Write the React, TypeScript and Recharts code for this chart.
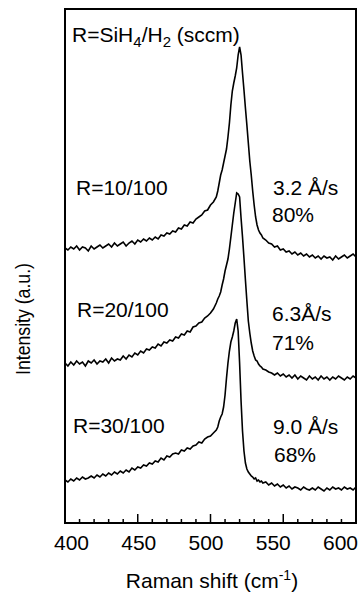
import { Line, LineChart, ReferenceArea, XAxis, YAxis } from 'recharts';

// Raman shift grid (cm-1), finer around the c-Si peak
const WAVENUMBER = [
  400, 402, 404, 406, 408, 410, 412, 414, 416, 418, 420, 422, 424, 426, 428, 430, 432, 434, 436, 438,
  440, 442, 444, 446, 448, 450, 452, 454, 456, 458, 460, 462, 464, 466, 468, 470, 472, 474, 476, 478,
  480, 482, 484, 486, 488, 490, 492, 494, 496, 498, 500, 502, 504,
  505, 506, 507, 508, 509, 510, 511, 512, 513, 514, 515, 516, 517, 518, 519, 520, 521, 522, 523, 524,
  525, 526, 527, 528, 529, 530, 531, 532, 533, 534, 535,
  536, 538, 540, 542, 544, 546, 548, 550, 552, 554, 556, 558, 560, 562, 564, 566, 568, 570, 572, 574,
  576, 578, 580, 582, 584, 586, 588, 590, 592, 594, 596, 598, 600,
];

// intensities (a.u., spectra already offset)
const R10 = [
  275, 273, 276, 274, 277, 273, 276, 275, 272, 277, 274, 276, 278, 275, 277, 279, 276, 280, 277, 279,
  281, 277, 280, 282, 279, 283, 281, 284, 282, 285, 283, 286, 284, 288, 287, 290, 289, 292, 291, 295,
  294, 298, 297, 301, 300, 304, 306, 308, 312, 313, 318, 321, 326,
  332, 340, 348, 353, 360, 367, 374, 386, 400, 418, 432, 440, 447, 455, 468, 476, 468, 450, 433, 415,
  398, 380, 362, 348, 332, 318, 306, 298, 293, 290, 288,
  285, 283, 280, 279, 276, 277, 273, 274, 271, 272, 269, 271, 268, 270, 267, 269, 266, 268, 265, 267,
  264, 267, 265, 266, 263, 267, 264, 266, 268, 265, 267, 269, 266,
];

const R20 = [
  160, 157, 161, 158, 162, 159, 161, 157, 162, 160, 163, 159, 162, 161, 164, 160, 165, 162, 164, 163,
  167, 164, 168, 166, 170, 168, 172, 170, 174, 173, 176, 175, 179, 177, 181, 180, 183, 182, 186, 185,
  189, 188, 192, 191, 196, 197, 200, 201, 205, 207, 210, 214, 220,
  224, 227, 231, 238, 244, 252, 258, 264, 274, 286, 298, 310, 320, 330, 329, 326, 305, 286, 265, 243,
  222, 202, 190, 180, 172, 167, 163, 162, 159, 157, 156,
  154, 153, 151, 150, 148, 150, 147, 149, 146, 148, 145, 148, 144, 147, 145, 143, 147, 144, 146, 143,
  147, 144, 146, 143, 146, 144, 147, 145, 143, 146, 144, 147, 145,
];

const R30 = [
  43, 41, 44, 42, 45, 43, 46, 44, 45, 47, 45, 48, 46, 49, 47, 50, 48, 51, 49, 52,
  50, 53, 51, 55, 53, 56, 55, 58, 57, 60, 59, 62, 61, 65, 63, 67, 66, 69, 70, 69,
  73, 72, 75, 74, 77, 78, 81, 80, 84, 86, 87, 90, 93,
  96, 102, 106, 109, 116, 128, 145, 160, 172, 181, 186, 192, 200, 204, 192, 160, 122, 92, 72, 60,
  54, 51, 49, 47, 46, 44, 45, 42, 43, 41, 42,
  40, 41, 38, 40, 37, 39, 36, 38, 35, 37, 34, 36, 35, 33, 36, 34, 33, 35, 33, 36,
  34, 32, 35, 33, 36, 34, 35, 33, 36, 34, 35, 33, 36,
];

const X_TICKS = [400, 410, 420, 430, 440, 450, 460, 470, 480, 490, 500, 510, 520, 530, 540, 550, 560, 570, 580, 590, 600];

const FONT = 'Arial, "Liberation Sans", Helvetica, sans-serif';

const data = WAVENUMBER.map((w, i) => ({ w, r10: R10[i], r20: R20[i], r30: R30[i] }));

function BottomTick(props: any) {
  const { x, y, payload } = props;
  const v = payload.value as number;
  const major = v % 50 === 0;
  return (
    <g>
      <line x1={x} x2={x} y1={y} y2={y - (major ? 9 : 4)} stroke="#000" strokeWidth={1.5} />
      {major && (
        <text
          x={x + 6.5 - (v - 400) * 0.11}
          y={y + 27}
          textAnchor="middle"
          fontFamily={FONT}
          fontSize={21}
          fill="#000"
        >
          {v}
        </text>
      )}
    </g>
  );
}

const txt = { fontFamily: FONT, fontSize: 21, fill: '#000' } as const;

export default function App() {
  return (
    <div style={{ position: 'absolute', left: 0, top: 0, width: 360, height: 593, background: '#fff' }}>
      <LineChart width={360} height={593} data={data} margin={{ top: 9, right: 4, bottom: 0, left: 65 }}>
        <XAxis
          dataKey="w"
          type="number"
          domain={[400, 600]}
          ticks={X_TICKS}
          interval={0}
          height={70}
          axisLine={false}
          tickLine={false}
          tickSize={0}
          tickMargin={0}
          tick={<BottomTick />}
        />
        <YAxis hide type="number" domain={[0, 514]} />
        <ReferenceArea x1={400} x2={600} y1={0} y2={514} fill="none" stroke="#000" strokeWidth={2} />
        <Line dataKey="r10" type="linear" stroke="#000" strokeWidth={1.6} dot={false} activeDot={false} isAnimationActive={false} />
        <Line dataKey="r20" type="linear" stroke="#000" strokeWidth={1.6} dot={false} activeDot={false} isAnimationActive={false} />
        <Line dataKey="r30" type="linear" stroke="#000" strokeWidth={1.6} dot={false} activeDot={false} isAnimationActive={false} />
      </LineChart>

      <svg width={360} height={593} style={{ position: 'absolute', left: 0, top: 0, pointerEvents: 'none' }}>
        <text x={72} y={42} {...txt}>
          R=SiH
          <tspan fontSize={15} dy={5}>4</tspan>
          <tspan dy={-5}>/H</tspan>
          <tspan fontSize={15} dy={5}>2</tspan>
          <tspan dy={-5}> (sccm)</tspan>
        </text>

        <text x={76} y={195} {...txt}>R=10/100</text>
        <text x={273} y={195} {...txt}>3.2 Å/s</text>
        <text x={272} y={222} {...txt}>80%</text>

        <text x={77} y={317} {...txt}>R=20/100</text>
        <text x={272} y={321} {...txt}>6.3Å/s</text>
        <text x={272} y={350} {...txt}>71%</text>

        <text x={73} y={433} {...txt}>R=30/100</text>
        <text x={273} y={434} {...txt}>9.0 Å/s</text>
        <text x={274} y={462} {...txt}>68%</text>

        <text
          transform="translate(30,319) rotate(-90)"
          textAnchor="middle"
          textLength={112}
          lengthAdjust="spacingAndGlyphs"
          {...txt}
        >
          Intensity (a.u.)
        </text>

        <text x={212} y={588} textAnchor="middle" {...txt}>
          Raman shift (cm
          <tspan fontSize={14} dy={-8}>-1</tspan>
          <tspan dy={8}>)</tspan>
        </text>
      </svg>
    </div>
  );
}
